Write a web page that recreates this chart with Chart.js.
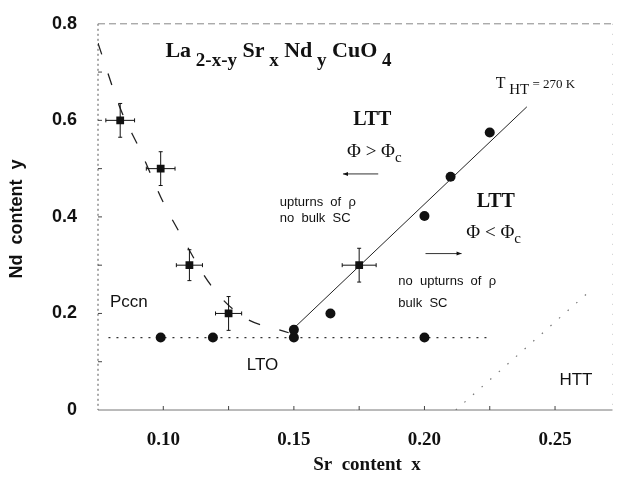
<!DOCTYPE html>
<html>
<head>
<meta charset="utf-8">
<script src="https://cdn.jsdelivr.net/npm/chart.js@4/dist/chart.umd.min.js"></script>
<style>
  html, body { margin: 0; padding: 0; background: #fff; }
  #wrap { width: 618px; height: 482px; }
</style>
</head>
<body>
<div id="wrap"><canvas id="chart" width="618" height="482"></canvas></div>
<script>
// Phase diagram La(2-x-y)Sr(x)Nd(y)CuO4

// filled circles
const circleX = [0.099, 0.119, 0.150, 0.200, 0.150, 0.164, 0.200, 0.210, 0.225];
const circleY = [0.150, 0.150, 0.150, 0.150, 0.166, 0.200, 0.402, 0.483, 0.575];

// squares with error bars
const errX  = [0.0835, 0.099, 0.110, 0.125, 0.175];
const errY  = [0.600, 0.500, 0.300, 0.200, 0.300];
const errDx = [0.0055, 0.0055, 0.005, 0.005, 0.0065];
const errDy = [0.035, 0.035, 0.032, 0.035, 0.035];

// dashed Pccn / LTT boundary
const curveX = [0.075, 0.0835, 0.091, 0.100, 0.107, 0.118, 0.130, 0.148];
const curveY = [0.760, 0.625, 0.540, 0.430, 0.360, 0.260, 0.195, 0.160];

// solid T_HT = 270 K line
const thtX = [0.1505, 0.2392];
const thtY = [0.172, 0.628];

// dotted LTO line
const ltoX = [0.079, 0.226];
const ltoY = [0.150, 0.150];

// dotted HTT boundary
const httX = [0.212, 0.262];
const httY = [0.000, 0.240];

// axis ticks
const xTickValues = [0.10, 0.15, 0.20, 0.25];
const xTickLabels = ['0.10', '0.15', '0.20', '0.25'];
const yTickValues = [0, 0.2, 0.4, 0.6, 0.8];
const yTickLabels = ['0', '0.2', '0.4', '0.6', '0.8'];
const xMinor = [0.10, 0.125, 0.15, 0.175, 0.20, 0.225, 0.25];
const yMinor = [0.1, 0.2, 0.3, 0.4, 0.5, 0.6, 0.7];

const toPts = (xs, ys) => xs.map((x, i) => ({ x: x, y: ys[i] }));

const SERIF = '"Liberation Serif", "DejaVu Serif", serif';
const SANS = '"Liberation Sans", Arial, sans-serif';

// text runs: [text, font, baseline shift]
function drawRuns(ctx, runs, x, y) {
  ctx.textAlign = 'left';
  ctx.textBaseline = 'alphabetic';
  for (const r of runs) {
    ctx.font = r[1];
    ctx.fillText(r[0], x, y + (r[2] || 0));
    x += ctx.measureText(r[0]).width;
  }
}

const decor = {
  id: 'decor',
  beforeDatasetsDraw(chart) {
    const ctx = chart.ctx, a = chart.chartArea;
    const xs = chart.scales.x, ys = chart.scales.y;
    ctx.save();
    // frame
    ctx.lineWidth = 1;
    ctx.strokeStyle = '#555';
    ctx.setLineDash([2, 3]);
    ctx.beginPath(); ctx.moveTo(a.left, a.top); ctx.lineTo(a.left, a.bottom); ctx.stroke();
    ctx.setLineDash([]);
    ctx.strokeStyle = '#777';
    ctx.beginPath(); ctx.moveTo(a.left, a.bottom); ctx.lineTo(a.right, a.bottom); ctx.stroke();
    ctx.strokeStyle = '#888';
    ctx.setLineDash([7, 4]);
    ctx.beginPath(); ctx.moveTo(a.left, a.top); ctx.lineTo(a.right, a.top); ctx.stroke();
    ctx.strokeStyle = '#ccc';
    ctx.setLineDash([1, 9]);
    ctx.beginPath(); ctx.moveTo(a.right, a.top); ctx.lineTo(a.right, a.bottom); ctx.stroke();
    ctx.setLineDash([]);
    // inward ticks
    ctx.strokeStyle = '#444';
    xMinor.forEach(v => {
      const px = xs.getPixelForValue(v);
      ctx.beginPath(); ctx.moveTo(px, a.bottom); ctx.lineTo(px, a.bottom - 4); ctx.stroke();
    });
    yMinor.forEach(v => {
      const py = ys.getPixelForValue(v);
      ctx.beginPath(); ctx.moveTo(a.left, py); ctx.lineTo(a.left + 4, py); ctx.stroke();
    });
    ctx.restore();
  },
  afterDatasetsDraw(chart) {
    const ctx = chart.ctx;
    const xs = chart.scales.x, ys = chart.scales.y;
    const X = v => xs.getPixelForValue(v), Y = v => ys.getPixelForValue(v);
    ctx.save();
    // error bars
    ctx.strokeStyle = '#111';
    ctx.lineWidth = 1;
    errX.forEach((x, i) => {
      const cx = X(x), cy = Y(errY[i]);
      const x1 = X(x - errDx[i]), x2 = X(x + errDx[i]);
      const y1 = Y(errY[i] - errDy[i]), y2 = Y(errY[i] + errDy[i]);
      ctx.beginPath();
      ctx.moveTo(x1, cy); ctx.lineTo(x2, cy);
      ctx.moveTo(cx, y1); ctx.lineTo(cx, y2);
      ctx.moveTo(x1, cy - 2); ctx.lineTo(x1, cy + 2);
      ctx.moveTo(x2, cy - 2); ctx.lineTo(x2, cy + 2);
      ctx.moveTo(cx - 2, y1); ctx.lineTo(cx + 2, y1);
      ctx.moveTo(cx - 2, y2); ctx.lineTo(cx + 2, y2);
      ctx.stroke();
    });

    ctx.fillStyle = '#111';
    // formula
    const big = 'bold 22px ' + SERIF, sub = 'bold 19px ' + SERIF;
    drawRuns(ctx, [['La', big], [' 2-x-y', sub, 9], [' Sr', big], [' x', sub, 9],
      [' Nd', big], [' y', sub, 9], [' CuO', big], [' 4', sub, 9]], X(0.1008), Y(0.732));

    // T_HT line label
    drawRuns(ctx, [['T', '16px ' + SERIF], [' HT', '15px ' + SERIF, 6], [' = 270 K', '13px ' + SERIF]],
      X(0.2273), Y(0.668));

    // LTT regions
    ctx.textAlign = 'center';
    ctx.textBaseline = 'middle';
    ctx.font = 'bold 20px ' + SERIF;
    ctx.fillText('LTT', X(0.180), Y(0.602));
    ctx.fillText('LTT', X(0.2273), Y(0.431));

    const phi = (cx, cy, op) => {
      ctx.font = '19px ' + SERIF;
      const w1 = ctx.measureText('\u03A6 ' + op + ' \u03A6').width;
      ctx.font = '15px ' + SERIF;
      const w2 = ctx.measureText('c').width;
      drawRuns(ctx, [['\u03A6 ' + op + ' \u03A6', '19px ' + SERIF], ['c', '15px ' + SERIF, 5]],
        cx - (w1 + w2) / 2, cy + 6);
    };
    phi(X(0.1808), Y(0.536), '>');
    phi(X(0.2265), Y(0.369), '<');

    // arrows
    const arrow = (xa, xb, yv) => {
      const p1 = X(xa), p2 = X(xb), py = Y(yv);
      ctx.strokeStyle = '#333';
      ctx.lineWidth = 1;
      ctx.beginPath(); ctx.moveTo(p1, py); ctx.lineTo(p2, py); ctx.stroke();
      const dir = Math.sign(p2 - p1);
      ctx.beginPath();
      ctx.moveTo(p2, py); ctx.lineTo(p2 - dir * 5, py - 2); ctx.lineTo(p2 - dir * 5, py + 2);
      ctx.closePath(); ctx.fill();
    };
    arrow(0.1823, 0.1688, 0.489);
    arrow(0.2004, 0.2142, 0.324);

    // small captions
    ctx.textAlign = 'left';
    ctx.textBaseline = 'middle';
    ctx.font = '13px ' + SANS;
    ctx.fillText('upturns  of  \u03C1', X(0.1446), Y(0.431));
    ctx.fillText('no  bulk  SC', X(0.1446), Y(0.397));
    ctx.fillText('no  upturns  of  \u03C1', X(0.190), Y(0.266));
    ctx.fillText('bulk  SC', X(0.190), Y(0.221));

    // phase names
    ctx.font = '17px ' + SANS;
    ctx.fillText('Pccn', X(0.0796), Y(0.223));
    ctx.textAlign = 'center';
    ctx.fillText('LTO', X(0.138), Y(0.093));
    ctx.fillText('HTT', X(0.258), Y(0.062));

    // axis titles
    ctx.fillStyle = '#111';
    ctx.font = 'bold 19px ' + SERIF;
    ctx.fillText('Sr  content  x', 367, 465);
    ctx.save();
    ctx.translate(17, 219);
    ctx.rotate(-Math.PI / 2);
    ctx.font = 'bold 18px ' + SANS;
    ctx.fillText('Nd  content  y', 0, 0);
    ctx.restore();
    ctx.restore();
  }
};

new Chart(document.getElementById('chart'), {
  type: 'scatter',
  data: {
    datasets: [
      {
        label: 'circles',
        data: toPts(circleX, circleY),
        pointStyle: 'circle',
        pointRadius: 5,
        backgroundColor: '#111',
        borderColor: '#111',
        borderWidth: 0
      },
      {
        label: 'error points',
        data: toPts(errX, errY),
        pointStyle: 'rect',
        pointRadius: 5.5,
        backgroundColor: '#111',
        borderColor: '#111',
        borderWidth: 0
      },
      {
        label: 'boundary',
        data: toPts(curveX, curveY),
        showLine: true,
        pointRadius: 0,
        borderColor: '#222',
        borderWidth: 1.3,
        borderDash: [12, 20],
        cubicInterpolationMode: 'monotone'
      },
      {
        label: 'T_HT',
        data: toPts(thtX, thtY),
        showLine: true,
        pointRadius: 0,
        borderColor: '#222',
        borderWidth: 1
      },
      {
        label: 'LTO',
        data: toPts(ltoX, ltoY),
        showLine: true,
        pointRadius: 0,
        borderColor: '#333',
        borderWidth: 1.2,
        borderDash: [2, 6]
      },
      {
        label: 'HTT',
        data: toPts(httX, httY),
        showLine: true,
        pointRadius: 0,
        borderColor: '#777',
        borderWidth: 1.2,
        borderDash: [1.5, 10]
      }
    ]
  },
  options: {
    responsive: false,
    animation: false,
    layout: { padding: { top: 22, right: 3, left: 0, bottom: 0 } },
    plugins: { legend: { display: false }, tooltip: { enabled: false } },
    scales: {
      x: {
        type: 'linear',
        min: 0.075,
        max: 0.272,
        grid: { display: false },
        border: { display: false },
        afterBuildTicks: s => { s.ticks = xTickValues.map(v => ({ value: v })); },
        afterFit: s => { s.height = 72; },
        ticks: {
          padding: 11,
          color: '#111',
          font: { family: SERIF, size: 19, weight: 'bold' },
          callback: v => xTickLabels[xTickValues.findIndex(t => Math.abs(t - v) < 1e-6)]
        }
      },
      y: {
        type: 'linear',
        min: 0,
        max: 0.8,
        grid: { display: false },
        border: { display: false },
        afterBuildTicks: s => { s.ticks = yTickValues.map(v => ({ value: v })); },
        afterFit: s => { s.width = 98; },
        ticks: {
          padding: 13,
          color: '#111',
          font: { family: SANS, size: 18, weight: 'bold' },
          callback: v => yTickLabels[yTickValues.findIndex(t => Math.abs(t - v) < 1e-6)]
        }
      }
    }
  },
  plugins: [decor]
});
</script>
</body>
</html>
